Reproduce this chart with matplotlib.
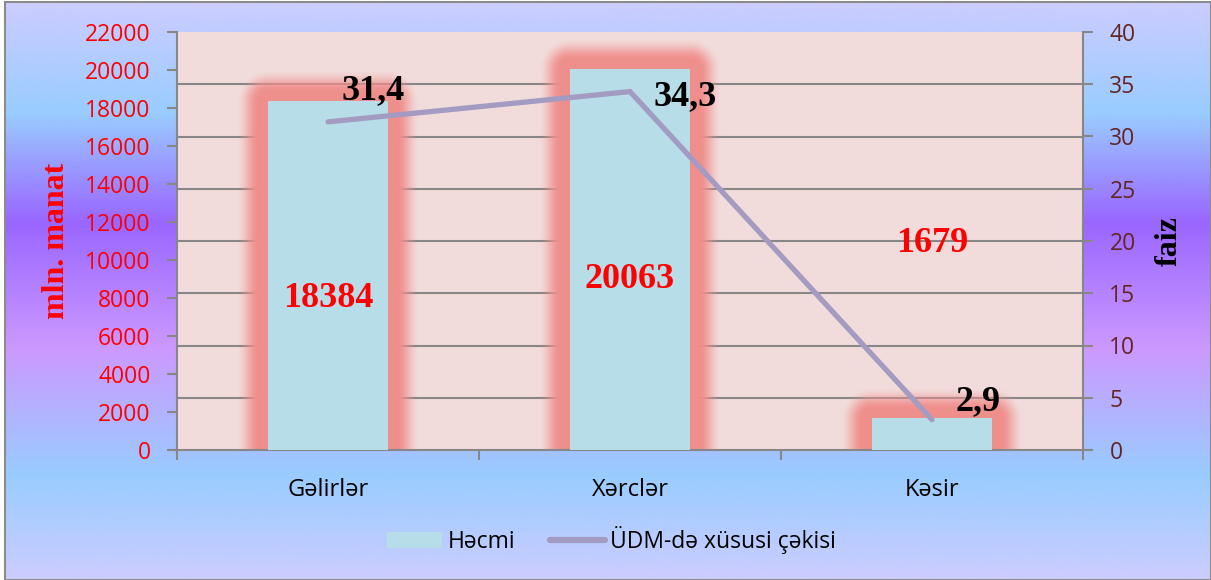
import numpy as np
import matplotlib
matplotlib.use("Agg")
import matplotlib.pyplot as plt
from matplotlib.colors import LinearSegmentedColormap, to_rgb
from matplotlib.lines import Line2D
from matplotlib.patches import Patch, Rectangle

# data
categories = ["Gəlirlər", "Xərclər", "Kəsir"]
hecmi = [18384, 20063, 1679]
udm_payi = [31.4, 34.3, 2.9]
udm_labels = ["31,4", "34,3", "2,9"]
hecmi_labels = ["18384", "20063", "1679"]

left_ticks = list(range(0, 22001, 2000))
right_ticks = list(range(0, 41, 5))

# label positions (left axis units) for red value labels, and offsets for line labels
hecmi_label_y = [7950, 9000, 10850]
udm_offsets = [(45, 31), (55, -5), (46, 18)]

bar_color = "#b7dde8"
glow_color = "#ef8f8c"
line_color = "#a39bc2"
plot_bg = "#f2dcdb"
grid_color = "#878787"

W, H = 1211, 580
fig = plt.figure(figsize=(W / 100, H / 100), dpi=100)

# gradient background with a thin border
bg = fig.add_axes([5 / W, 0, 1 - 5 / W, 1 - 2 / H])
stops = [(0.0, "#ccccff"), (0.19, "#99ccff"), (0.38, "#9966ff"),
         (0.6, "#cc99ff"), (0.82, "#99ccff"), (1.0, "#ccccff")]
cmap = LinearSegmentedColormap.from_list("bg", stops)
bg.imshow(np.linspace(0, 1, 300).reshape(-1, 1), aspect="auto", cmap=cmap,
          extent=(0, 1, 0, 1), origin="upper")
bg.set_xlim(0, 1)
bg.set_ylim(0, 1)
bg.axis("off")
bg.add_patch(Rectangle((0, 0), 1, 1, transform=bg.transAxes, fill=False,
                       edgecolor="#8c8c8c", linewidth=1.5, clip_on=False))

x0, x1, y0, y1 = 177, 1083, 32, 450
ax = fig.add_axes([x0 / W, 1 - y1 / H, (x1 - x0) / W, (y1 - y0) / H])
ax.set_facecolor(plot_bg)
x = np.arange(len(categories))
ax.set_xlim(-0.5, len(categories) - 0.5)
ax.set_ylim(0, 22000)

# gridlines follow the right axis (every 5 %)
ax.set_yticks(left_ticks)
ax.set_yticks([v * 22000 / 40 for v in right_ticks], minor=True)
ax.yaxis.grid(True, which="minor", color=grid_color, linewidth=1.5)
ax.tick_params(axis="y", which="minor", length=0)
ax.set_axisbelow(True)

bars = ax.bar(x, hecmi, width=0.4, color=bar_color, zorder=3)

# red glow around bars
fig.canvas.draw()
bb = ax.get_window_extent()
nx, ny = int(bb.width), int(bb.height)
px = np.arange(nx) + 0.5 + bb.x0
py = np.arange(ny) + 0.5 + bb.y0
PX, PY = np.meshgrid(px, py)
alpha = np.zeros_like(PX)
for b in bars:
    (bx0, by0), (bx1, by1) = ax.transData.transform(
        [(b.get_x(), 0), (b.get_x() + b.get_width(), b.get_height())])
    dx = np.maximum(np.maximum(bx0 - PX, PX - bx1), 0)
    dy = np.maximum(np.maximum(by0 - PY, PY - by1), 0)
    d = np.hypot(dx, dy)
    t = np.clip((d - 9) / 22, 0, 1)
    a = 1 - t * t * (3 - 2 * t)
    alpha = np.maximum(alpha, a)
rgba = np.zeros((ny, nx, 4))
rgba[..., :3] = to_rgb(glow_color)
rgba[..., 3] = alpha
ax.imshow(rgba, extent=(-0.5, len(categories) - 0.5, 0, 22000), origin="lower",
          aspect="auto", zorder=2, interpolation="bilinear")
ax.set_xlim(-0.5, len(categories) - 0.5)
ax.set_ylim(0, 22000)

for xi, lab, ly in zip(x, hecmi_labels, hecmi_label_y):
    ax.text(xi, ly, lab, ha="center", va="center", color="red",
            fontsize=26, fontweight="bold", family="Liberation Serif", zorder=5)

ax.set_xticks(x)
ax.set_xticklabels(categories, fontsize=17, family="Open Sans", color="black")
ax.set_xticks([-0.5, 0.5, 1.5, 2.5], minor=True)
ax.tick_params(axis="x", which="major", length=0, pad=20)
ax.tick_params(axis="x", which="minor", length=7, color=grid_color, width=1.5)
ax.tick_params(axis="y", which="major", length=7, color=grid_color, width=1.5,
               labelsize=16.5, labelcolor="red", pad=12)
for lab in ax.get_yticklabels():
    lab.set_family("Open Sans")
for s in ["left", "bottom", "right"]:
    ax.spines[s].set_color(grid_color)
    ax.spines[s].set_linewidth(1.5)
ax.spines["top"].set_visible(False)
ax.set_ylabel("mln. manat", color="red", fontsize=23, fontweight="bold",
              family="Liberation Serif", labelpad=10)

ax2 = ax.twinx()
ax2.set_ylim(0, 40)
ax2.set_yticks(right_ticks)
ax2.tick_params(axis="y", length=7, color=grid_color, width=1.5, labelsize=16.5,
                labelcolor="#632523", pad=12)
for lab in ax2.get_yticklabels():
    lab.set_family("Open Sans")
for s in ["left", "bottom", "right", "top"]:
    ax2.spines[s].set_visible(False)
ax2.plot(x, udm_payi, color=line_color, linewidth=3.8, solid_capstyle="round",
         solid_joinstyle="miter", zorder=4)
for xi, v, lab, off in zip(x, udm_payi, udm_labels, udm_offsets):
    ax2.annotate(lab, (xi, v), xytext=off, textcoords="offset pixels",
                 ha="center", va="center", fontsize=26, fontweight="bold",
                 family="Liberation Serif", color="black", zorder=6)
ax2.set_ylabel("faiz", color="black", fontsize=23, fontweight="bold",
               family="Liberation Serif", labelpad=14)

handles = [Patch(facecolor=bar_color, edgecolor="none"),
           Line2D([0], [0], color=line_color, linewidth=4.5, solid_capstyle="round")]
fig.legend(handles, ["Həcmi", "ÜDM-də xüsusi çəkisi"], loc="center",
           bbox_to_anchor=(0.5 + 6 / W, 1 - 540 / H), ncol=2, frameon=False,
           prop={"family": "Open Sans", "size": 16.5}, handlelength=2.4,
           handleheight=0.65, columnspacing=1.5, handletextpad=0.25)

fig.savefig("out.png", dpi=100)
